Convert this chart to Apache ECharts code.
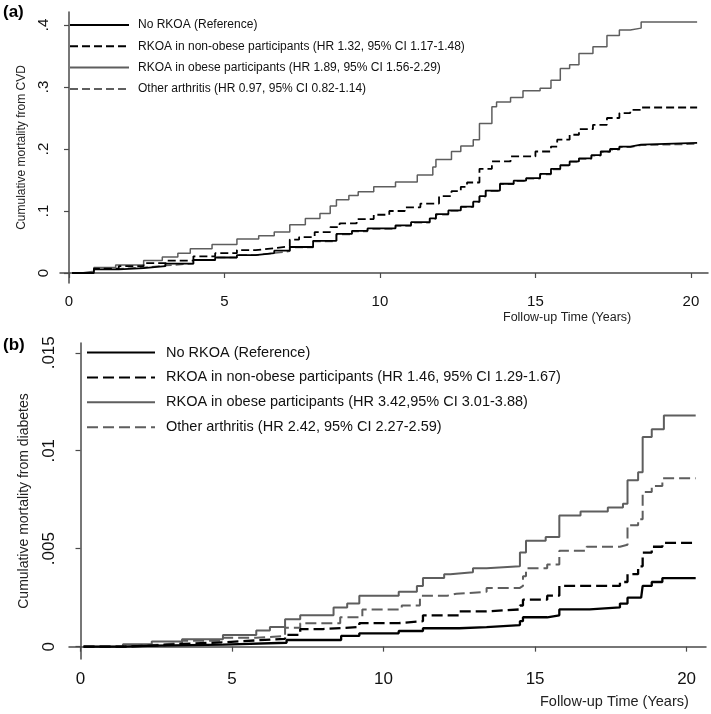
<!DOCTYPE html>
<html>
<head>
<meta charset="utf-8">
<script src="https://cdn.jsdelivr.net/npm/echarts@6/dist/echarts.min.js"></script>
<style>
html,body{margin:0;padding:0;background:#fff;}
#chart{width:711px;height:714px;}
</style>
</head>
<body>
<div id="chart"></div>
<script>
// ---------- Data (time in years, cumulative mortality) ----------
// Panel (a): CVD
const cvdNoRkoa = [[0.1,0],[0.8,0.006],[1.6,0.008],[2.4,0.011],[3.1,0.015],[4.0,0.021],[4.7,0.025],[5.4,0.029],[6.0,0.032],[6.6,0.036],[7.1,0.042],[7.85,0.052],[8.6,0.063],[9.1,0.068],[9.6,0.072],[10.5,0.077],[11.0,0.082],[11.6,0.088],[11.8,0.095],[12.2,0.101],[12.6,0.107],[13.0,0.115],[13.2,0.124],[13.4,0.133],[13.86,0.144],[14.3,0.149],[14.7,0.153],[15.15,0.16],[15.5,0.168],[15.8,0.174],[16.1,0.18],[16.4,0.185],[16.8,0.19],[17.1,0.196],[17.4,0.2],[17.7,0.204],[18.05,0.207],[18.4,0.21],[20.2,0.21]];
const cvdNonObese = [[0.1,0],[0.8,0.007],[1.6,0.011],[2.4,0.016],[3.1,0.02],[4.0,0.027],[4.7,0.032],[5.4,0.037],[6.0,0.04],[6.6,0.043],[7.1,0.054],[7.4,0.058],[7.9,0.066],[8.4,0.074],[8.7,0.08],[9.25,0.087],[9.8,0.094],[10.3,0.1],[10.8,0.106],[11.3,0.112],[11.9,0.124],[12.3,0.132],[12.6,0.139],[12.8,0.146],[13.2,0.168],[13.6,0.18],[14.2,0.188],[15.0,0.196],[15.5,0.204],[15.7,0.215],[16.1,0.223],[16.4,0.232],[16.85,0.239],[17.3,0.25],[17.7,0.258],[18.05,0.263],[18.4,0.267],[20.2,0.267]];
const cvdObese = [[0.1,0],[0.4,0.003],[0.8,0.009],[1.5,0.013],[2.4,0.02],[3.0,0.026],[3.5,0.032],[3.9,0.039],[4.6,0.046],[5.4,0.055],[6.1,0.06],[6.6,0.066],[7.1,0.078],[7.6,0.088],[8.07,0.096],[8.4,0.108],[8.6,0.118],[9.0,0.125],[9.3,0.131],[9.8,0.139],[10.5,0.147],[11.2,0.158],[11.7,0.171],[11.8,0.183],[12.3,0.196],[12.6,0.205],[13.0,0.215],[13.2,0.241],[13.6,0.268],[13.75,0.276],[14.2,0.283],[14.6,0.294],[15.15,0.298],[15.5,0.311],[15.8,0.33],[16.1,0.336],[16.4,0.354],[16.85,0.365],[17.3,0.383],[17.7,0.392],[18.05,0.395],[18.4,0.405],[20.2,0.405]];
const cvdOther = [[0.1,0],[0.8,0.007],[1.6,0.009],[2.4,0.012],[3.1,0.015],[4.0,0.021],[4.7,0.025],[5.4,0.029],[6.0,0.032],[6.6,0.035],[7.1,0.041],[7.85,0.051],[8.6,0.062],[9.1,0.067],[9.6,0.071],[10.5,0.076],[11.0,0.081],[11.6,0.087],[11.8,0.094],[12.2,0.1],[12.6,0.106],[13.0,0.114],[13.2,0.123],[13.4,0.132],[13.86,0.143],[14.3,0.148],[14.7,0.152],[15.15,0.159],[15.5,0.167],[15.8,0.173],[16.1,0.179],[16.4,0.184],[16.8,0.189],[17.1,0.195],[17.4,0.199],[17.7,0.203],[18.05,0.206],[18.4,0.208],[20.2,0.208]];

// Panel (b): diabetes
const dmNoRkoa = [[0.1,0],[1.4,0.00005],[2.5,0.0001],[4.7,0.0002],[6.8,0.00034],[8.6,0.00055],[9.2,0.00068],[10.5,0.0008],[11.3,0.00094],[12.5,0.001],[13.4,0.0011],[14.5,0.0013],[14.6,0.0015],[15.4,0.0016],[15.8,0.0019],[16.8,0.002],[17.8,0.0022],[18.05,0.0025],[18.5,0.0026],[18.55,0.0031],[18.85,0.0033],[19.2,0.0035],[20.3,0.0035]];
const dmNonObese = [[0.1,0],[1.4,0.00006],[2.5,0.00014],[3.35,0.00022],[4.7,0.00032],[5.8,0.0004],[6.75,0.0006],[7.25,0.0009],[8.0,0.001],[9.2,0.0012],[10.5,0.0013],[11.3,0.0016],[12.5,0.0018],[13.4,0.0019],[14.5,0.0021],[14.6,0.0024],[15.4,0.0026],[15.8,0.0031],[16.5,0.0031],[17.8,0.0033],[18.05,0.0037],[18.4,0.0041],[18.55,0.0048],[18.85,0.0051],[19.2,0.0053],[20.3,0.0053]];
const dmObese = [[0.1,0],[1.4,0.00012],[2.35,0.00026],[3.35,0.00038],[4.7,0.0006],[5.8,0.00082],[6.25,0.001],[6.75,0.0014],[7.25,0.0016],[8.35,0.002],[8.8,0.0022],[9.2,0.0026],[10.5,0.0028],[11.1,0.0031],[11.3,0.0035],[12.0,0.0037],[12.2,0.0038],[12.95,0.004],[13.4,0.0041],[14.5,0.0048],[14.7,0.0054],[15.35,0.0056],[15.8,0.0067],[16.5,0.0069],[17.4,0.0071],[17.9,0.0073],[18.05,0.0085],[18.4,0.0089],[18.55,0.0107],[18.85,0.0111],[19.25,0.0118],[20.3,0.0118]];
const dmOther = [[0.1,0],[1.4,0.00008],[2.35,0.00018],[3.35,0.0003],[4.7,0.00045],[5.8,0.00055],[6.75,0.00097],[7.25,0.0012],[8.57,0.0015],[9.3,0.0019],[10.6,0.0021],[11.2,0.0026],[12.1,0.0027],[12.4,0.0028],[13.4,0.003],[14.5,0.0031],[14.6,0.0036],[14.7,0.004],[15.4,0.0042],[15.8,0.0049],[16.7,0.0051],[17.8,0.0052],[18.05,0.0062],[18.4,0.0065],[18.55,0.0079],[18.85,0.0082],[19.2,0.0086],[20.3,0.0086]];

// Legend labels
const namesA = ['No RKOA (Reference)', 'RKOA in non-obese participants (HR 1.32, 95% CI 1.17-1.48)', 'RKOA in obese participants (HR 1.89, 95% CI 1.56-2.29)', 'Other arthritis (HR 0.97, 95% CI 0.82-1.14)'];
const namesB = ['No RKOA (Reference) ', 'RKOA in non-obese participants (HR 1.46, 95% CI 1.29-1.67)', 'RKOA in obese participants (HR 3.42,95% CI 3.01-3.88)', 'Other arthritis (HR 2.42, 95% CI 2.27-2.59)'];

// Tick values / labels
const xTicks = [0, 5, 10, 15, 20];
const yTicksA = [0, 0.1, 0.2, 0.3, 0.4];
const yTicksB = [0, 0.005, 0.01, 0.015];
const titleYA = 'Cumulative mortality from CVD';
const titleYB = 'Cumulative mortality from diabetes';
const titleX = 'Follow-up Time (Years)';

// ---------- Chart ----------
const FONT = '"Liberation Sans", Arial, sans-serif';
const AXC = '#4a4a4a';
const GRAY = '#5e5e5e';
const fmtDot = v => (v === 0 ? '0' : String(v).replace(/^0\./, '.'));

function xAxisCfg(gridIndex, min, max, fs, margin) {
  return {
    type: 'value', gridIndex, min, max,
    axisLine: {show: true, lineStyle: {color: AXC, width: 1.5}},
    axisTick: {show: true, length: 5, lineStyle: {color: AXC, width: 1.2}, customValues: xTicks},
    axisLabel: {customValues: xTicks, fontSize: fs, color: '#111', fontFamily: FONT, margin},
    splitLine: {show: false}
  };
}
function yAxisCfg(gridIndex, min, max, ticks, fs, margin, name, nfs, gap) {
  return {
    type: 'value', gridIndex, min, max,
    name, nameLocation: 'middle', nameGap: gap,
    nameTextStyle: {fontSize: nfs, color: '#222', fontFamily: FONT},
    axisLine: {show: true, lineStyle: {color: AXC, width: 1.5}},
    axisTick: {show: true, length: 5, lineStyle: {color: AXC, width: 1.2}, customValues: ticks},
    axisLabel: {customValues: ticks, fontSize: fs, color: '#111', fontFamily: FONT, margin, rotate: 90, formatter: fmtDot},
    splitLine: {show: false}
  };
}

const stylesA = [
  {color: '#000', width: 1.8, type: 'solid'},
  {color: '#000', width: 1.8, type: [8, 4]},
  {color: GRAY, width: 1.5, type: 'solid'},
  {color: GRAY, width: 1.5, type: [8, 4]}
];
const stylesB = [
  {color: '#000', width: 2.3, type: 'solid'},
  {color: '#000', width: 2.3, type: [11, 5]},
  {color: GRAY, width: 2, type: 'solid'},
  {color: GRAY, width: 2, type: [11, 5]}
];
const zOrder = [5, 4, 3, 2];

function mkSeries(names, datas, xi, styles) {
  return datas.map((d, i) => ({
    name: names[i], type: 'line', step: 'end', xAxisIndex: xi, yAxisIndex: xi,
    data: d, showSymbol: false, symbol: 'none', z: zOrder[i],
    lineStyle: styles[i], itemStyle: {color: styles[i].color},
    emphasis: {disabled: true}, silent: true, animation: false
  }));
}

const chart = echarts.init(document.getElementById('chart'), null, {renderer: 'canvas'});
chart.setOption({
  animation: false,
  backgroundColor: '#fff',
  textStyle: {fontFamily: FONT},
  grid: [
    {left: 60, top: 12, width: 648, height: 271},
    {left: 69, top: 343, width: 637, height: 316}
  ],
  xAxis: [
    xAxisCfg(0, -0.29, 20.55, 15, 11),
    xAxisCfg(1, -0.38, 20.64, 17, 12)
  ],
  yAxis: [
    yAxisCfg(0, -0.0161, 0.421, yTicksA, 15, 9, titleYA, 12, 31),
    yAxisCfg(1, -0.00063, 0.0155, yTicksB, 17, 11, titleYB, 14, 38)
  ],
  legend: [
    {
      data: namesA, orient: 'vertical', left: 69, top: 19, padding: 0,
      itemWidth: 59, itemHeight: 14, itemGap: 9.3,
      itemStyle: {opacity: 0},
      textStyle: {fontSize: 12, color: '#111', fontFamily: FONT, padding: [0, 0, 0, 4]},
      selectedMode: false, formatter: n => n.trim()
    },
    {
      data: namesB, orient: 'vertical', left: 86, top: 345, padding: 0,
      itemWidth: 68, itemHeight: 16, itemGap: 9.9,
      itemStyle: {opacity: 0},
      textStyle: {fontSize: 14.5, color: '#111', fontFamily: FONT, padding: [0, 0, 0, 6]},
      selectedMode: false, formatter: n => n.trim()
    }
  ],
  graphic: [
    {type: 'text', left: 3, top: 4, style: {text: '(a)', font: 'bold 17px ' + FONT, fill: '#000'}},
    {type: 'text', left: 3, top: 337, style: {text: '(b)', font: 'bold 17px ' + FONT, fill: '#000'}},
    {type: 'text', left: 503, top: 311, style: {text: titleX, font: '12.5px ' + FONT, fill: '#222'}},
    {type: 'text', left: 540, top: 694, style: {text: titleX, font: '14.5px ' + FONT, fill: '#222'}}
  ],
  series: [].concat(
    mkSeries(namesA, [cvdNoRkoa, cvdNonObese, cvdObese, cvdOther], 0, stylesA),
    mkSeries(namesB, [dmNoRkoa, dmNonObese, dmObese, dmOther], 1, stylesB)
  )
});
</script>
</body>
</html>
